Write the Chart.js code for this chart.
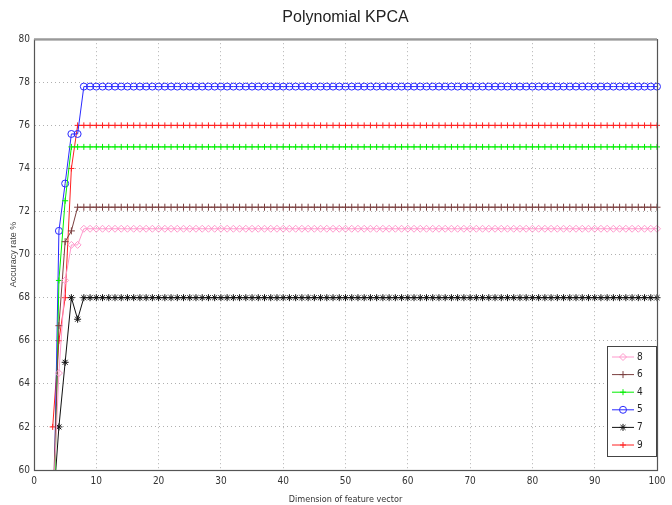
<!DOCTYPE html>
<html>
<head>
<meta charset="utf-8">
<script src="https://cdn.jsdelivr.net/npm/chart.js@4/dist/chart.umd.min.js"></script>
<style>
    html, body { margin: 0; padding: 0; background: #fff; }
    #wrap { width: 672px; height: 505px; }
</style>
</head>
<body>
<div id="wrap"><canvas id="chart" width="672" height="505"></canvas></div>
<script>
// Feature vector dimension (x values)
const dims = [
    3, 4, 5, 6, 7, 8, 9, 10,
    11, 12, 13, 14, 15, 16, 17, 18, 19, 20,
    21, 22, 23, 24, 25, 26, 27, 28, 29, 30,
    31, 32, 33, 34, 35, 36, 37, 38, 39, 40,
    41, 42, 43, 44, 45, 46, 47, 48, 49, 50,
    51, 52, 53, 54, 55, 56, 57, 58, 59, 60,
    61, 62, 63, 64, 65, 66, 67, 68, 69, 70,
    71, 72, 73, 74, 75, 76, 77, 78, 79, 80,
    81, 82, 83, 84, 85, 86, 87, 88, 89, 90,
    91, 92, 93, 94, 95, 96, 97, 98, 99, 100
];

// Accuracy rate % per degree (x = 3..100)
const deg8 = [
    58, 64.5, 68.8, 70.45, 70.45, 71.2,
    71.2, 71.2, 71.2, 71.2, 71.2,  71.2, 71.2, 71.2, 71.2, 71.2,  71.2, 71.2, 71.2, 71.2, 71.2,  71.2, 71.2, 71.2, 71.2, 71.2,  71.2, 71.2, 71.2,
    71.2, 71.2, 71.2, 71.2, 71.2,  71.2, 71.2, 71.2, 71.2, 71.2,  71.2, 71.2, 71.2, 71.2, 71.2,  71.2, 71.2, 71.2, 71.2, 71.2,  71.2, 71.2, 71.2,
    71.2, 71.2, 71.2, 71.2, 71.2,  71.2, 71.2, 71.2, 71.2, 71.2,  71.2, 71.2, 71.2, 71.2, 71.2,  71.2, 71.2, 71.2, 71.2, 71.2,  71.2, 71.2, 71.2,
    71.2, 71.2, 71.2, 71.2, 71.2,  71.2, 71.2, 71.2, 71.2, 71.2,  71.2, 71.2, 71.2, 71.2, 71.2,  71.2, 71.2, 71.2, 71.2, 71.2,  71.2, 71.2, 71.2
];
const deg6 = [
    58, 66.7, 70.6, 71.1, 72.2, 72.2,
    72.2, 72.2, 72.2, 72.2, 72.2,  72.2, 72.2, 72.2, 72.2, 72.2,  72.2, 72.2, 72.2, 72.2, 72.2,  72.2, 72.2, 72.2, 72.2, 72.2,  72.2, 72.2, 72.2,
    72.2, 72.2, 72.2, 72.2, 72.2,  72.2, 72.2, 72.2, 72.2, 72.2,  72.2, 72.2, 72.2, 72.2, 72.2,  72.2, 72.2, 72.2, 72.2, 72.2,  72.2, 72.2, 72.2,
    72.2, 72.2, 72.2, 72.2, 72.2,  72.2, 72.2, 72.2, 72.2, 72.2,  72.2, 72.2, 72.2, 72.2, 72.2,  72.2, 72.2, 72.2, 72.2, 72.2,  72.2, 72.2, 72.2,
    72.2, 72.2, 72.2, 72.2, 72.2,  72.2, 72.2, 72.2, 72.2, 72.2,  72.2, 72.2, 72.2, 72.2, 72.2,  72.2, 72.2, 72.2, 72.2, 72.2,  72.2, 72.2, 72.2
];
const deg4 = [
    54, 68.8, 72.5, 75, 75, 75,
    75, 75, 75, 75, 75,  75, 75, 75, 75, 75,  75, 75, 75, 75, 75,  75, 75, 75, 75, 75,  75, 75, 75,
    75, 75, 75, 75, 75,  75, 75, 75, 75, 75,  75, 75, 75, 75, 75,  75, 75, 75, 75, 75,  75, 75, 75,
    75, 75, 75, 75, 75,  75, 75, 75, 75, 75,  75, 75, 75, 75, 75,  75, 75, 75, 75, 75,  75, 75, 75,
    75, 75, 75, 75, 75,  75, 75, 75, 75, 75,  75, 75, 75, 75, 75,  75, 75, 75, 75, 75,  75, 75, 75
];
const deg5 = [
    55.2, 71.1, 73.3, 75.6, 75.6, 77.8,
    77.8, 77.8, 77.8, 77.8, 77.8,  77.8, 77.8, 77.8, 77.8, 77.8,  77.8, 77.8, 77.8, 77.8, 77.8,  77.8, 77.8, 77.8, 77.8, 77.8,  77.8, 77.8, 77.8,
    77.8, 77.8, 77.8, 77.8, 77.8,  77.8, 77.8, 77.8, 77.8, 77.8,  77.8, 77.8, 77.8, 77.8, 77.8,  77.8, 77.8, 77.8, 77.8, 77.8,  77.8, 77.8, 77.8,
    77.8, 77.8, 77.8, 77.8, 77.8,  77.8, 77.8, 77.8, 77.8, 77.8,  77.8, 77.8, 77.8, 77.8, 77.8,  77.8, 77.8, 77.8, 77.8, 77.8,  77.8, 77.8, 77.8,
    77.8, 77.8, 77.8, 77.8, 77.8,  77.8, 77.8, 77.8, 77.8, 77.8,  77.8, 77.8, 77.8, 77.8, 77.8,  77.8, 77.8, 77.8, 77.8, 77.8,  77.8, 77.8, 77.8
];
const deg7 = [
    58, 62, 65, 68, 67, 68,
    68, 68, 68, 68, 68,  68, 68, 68, 68, 68,  68, 68, 68, 68, 68,  68, 68, 68, 68, 68,  68, 68, 68,
    68, 68, 68, 68, 68,  68, 68, 68, 68, 68,  68, 68, 68, 68, 68,  68, 68, 68, 68, 68,  68, 68, 68,
    68, 68, 68, 68, 68,  68, 68, 68, 68, 68,  68, 68, 68, 68, 68,  68, 68, 68, 68, 68,  68, 68, 68,
    68, 68, 68, 68, 68,  68, 68, 68, 68, 68,  68, 68, 68, 68, 68,  68, 68, 68, 68, 68,  68, 68, 68
];
const deg9 = [
    62, 66, 68, 74, 76, 76,
    76, 76, 76, 76, 76,  76, 76, 76, 76, 76,  76, 76, 76, 76, 76,  76, 76, 76, 76, 76,  76, 76, 76,
    76, 76, 76, 76, 76,  76, 76, 76, 76, 76,  76, 76, 76, 76, 76,  76, 76, 76, 76, 76,  76, 76, 76,
    76, 76, 76, 76, 76,  76, 76, 76, 76, 76,  76, 76, 76, 76, 76,  76, 76, 76, 76, 76,  76, 76, 76,
    76, 76, 76, 76, 76,  76, 76, 76, 76, 76,  76, 76, 76, 76, 76,  76, 76, 76, 76, 76,  76, 76, 76
];

const xTicks = [0, 10, 20, 30, 40, 50, 60, 70, 80, 90, 100];
const yTicks = [60, 62, 64, 66, 68, 70, 72, 74, 76, 78, 80];

const FONT = "'DejaVu Sans Condensed', 'Liberation Sans Narrow', 'Liberation Sans', Arial, sans-serif";

function points(values) {
    return dims.map((d, i) => ({ x: d, y: values[i] }));
}

function series(label, values, color, style, radius) {
    return {
        label: label,
        data: points(values),
        borderColor: color,
        backgroundColor: color,
        borderWidth: 1,
        pointStyle: style,
        pointRadius: radius,
        pointBorderColor: color,
        pointBackgroundColor: (style === 'circle' || style === 'rectRot') ? 'rgba(0,0,0,0)' : color,
        pointBorderWidth: 1,
        tension: 0,
        clip: { left: 0, top: 0, right: 6, bottom: 0 }
    };
}

const datasets = [
    series('8', deg8, '#ff99cc', 'rectRot', 3.5),
    series('6', deg6, '#7b3f3f', 'cross', 3.5),
    series('4', deg4, '#00ee00', 'cross', 3),
    series('5', deg5, '#2a2aff', 'circle', 3.5),
    series('7', deg7, '#111111', 'star', 3.5),
    series('9', deg9, '#ff2020', 'cross', 3)
];

// frame around the plot + MATLAB-style legend box in lower right
const framePlugin = {
    id: 'frame',
    afterDatasetsDraw(chart) {
        const { ctx, chartArea: a } = chart;
        ctx.save();
        ctx.strokeStyle = '#555';
        ctx.lineWidth = 1.2;
        ctx.strokeRect(a.left + 0.5, a.top + 0.5, a.right - a.left, a.bottom - a.top);
        ctx.strokeStyle = '#999';
        ctx.lineWidth = 2;
        ctx.beginPath();
        ctx.moveTo(a.left, a.top);
        ctx.lineTo(a.right, a.top);
        ctx.stroke();
        ctx.restore();
    },
    afterDraw(chart) {
        const { ctx } = chart;
        const box = { x: 607, y: 346, w: 49, h: 110 };
        ctx.save();
        ctx.fillStyle = '#fff';
        ctx.fillRect(box.x, box.y, box.w, box.h);
        ctx.strokeStyle = '#444';
        ctx.lineWidth = 1;
        ctx.strokeRect(box.x + 0.5, box.y + 0.5, box.w, box.h);
        ctx.font = '10px ' + FONT;
        ctx.textBaseline = 'middle';
        chart.data.datasets.forEach((ds, i) => {
            const cy = 357 + i * 17.6;
            ctx.strokeStyle = ds.borderColor;
            ctx.lineWidth = 1;
            ctx.beginPath();
            ctx.moveTo(612, cy);
            ctx.lineTo(634, cy);
            ctx.stroke();
            ctx.fillStyle = ds.pointBackgroundColor;
            ctx.strokeStyle = ds.pointBorderColor;
            Chart.helpers.drawPoint(ctx, {
                pointStyle: ds.pointStyle,
                radius: ds.pointRadius,
                rotation: 0,
                borderWidth: 1
            }, 623, cy);
            ctx.fillStyle = '#222';
            ctx.fillText(ds.label, 637, cy);
        });
        ctx.restore();
    }
};

new Chart(document.getElementById('chart').getContext('2d'), {
    type: 'line',
    data: { datasets: datasets },
    options: {
        responsive: false,
        animation: false,
        layout: { padding: { left: 0, right: 15, top: 0, bottom: 0 } },
        plugins: {
            legend: { display: false },
            tooltip: { enabled: false },
            title: {
                display: true,
                text: 'Polynomial KPCA',
                fullSize: false,
                color: '#222',
                font: { family: "'Liberation Sans', Arial, sans-serif", size: 16, weight: 'normal' },
                padding: { top: 8, bottom: 12 }
            }
        },
        scales: {
            x: {
                type: 'linear',
                min: 0,
                max: 100,
                afterFit: s => { s.height = 35; },
                afterBuildTicks: s => { s.ticks = xTicks.map(v => ({ value: v })); },
                ticks: { color: '#333', font: { family: FONT, size: 10 }, padding: 5, maxRotation: 0 },
                grid: { color: '#b0b0b0', drawTicks: false },
                border: { color: '#444', dash: [1, 3] },
                title: {
                    display: true,
                    text: 'Dimension of feature vector',
                    color: '#333',
                    font: { family: FONT, size: 9 },
                    padding: { top: 0, bottom: 0 }
                }
            },
            y: {
                min: 60,
                max: 80,
                afterFit: s => { s.width = 34; },
                afterBuildTicks: s => { s.ticks = yTicks.map(v => ({ value: v })); },
                ticks: { color: '#333', font: { family: FONT, size: 10 }, padding: 4 },
                grid: { color: '#b0b0b0', drawTicks: false },
                border: { color: '#777', dash: [1, 3] },
                title: {
                    display: true,
                    text: 'Accuracy rate %',
                    color: '#444',
                    font: { family: "'Liberation Sans', Arial, sans-serif", size: 9 },
                    padding: { top: 8, bottom: 0 }
                }
            }
        }
    },
    plugins: [framePlugin]
});
</script>
</body>
</html>
